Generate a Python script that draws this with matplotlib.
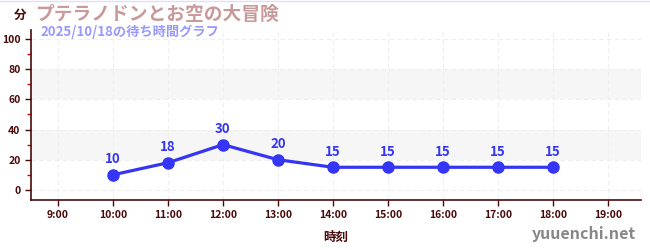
import matplotlib
matplotlib.use('Agg')
import matplotlib.pyplot as plt
from matplotlib.ticker import MultipleLocator

plt.rcParams['font.family'] = ['Noto Sans CJK JP', 'DejaVu Sans']

hours = [10, 11, 12, 13, 14, 15, 16, 17, 18]
waits = [10, 18, 30, 20, 15, 15, 15, 15, 15]
tick_hours = [9, 10, 11, 12, 13, 14, 15, 16, 17, 18, 19]
tick_labels = ['%d:00' % h for h in tick_hours]
y_ticks = [0, 20, 40, 60, 80, 100]

title = 'プテラノドンとお空の大冒険'
subtitle = '2025/10/18の待ち時間グラフ'

axis_col = '#4a0a0a'
line_col = '#3535f5'

fig = plt.figure(figsize=(6.5, 2.5), dpi=100)
ax = fig.add_axes([31 / 650, 50 / 250, 610 / 650, 170 / 250])

ax.set_xlim(8.51, 19.6)
ax.set_ylim(-6.7, 106)

# grey bands
for lo, hi in [(20, 40), (60, 80)]:
    ax.axhspan(lo, hi, color='#f6f6f6', zorder=0, lw=0)

ax.set_xticks(tick_hours)
ax.set_xticklabels(tick_labels)
ax.set_yticks(y_ticks)
ax.yaxis.set_minor_locator(MultipleLocator(10))
ax.grid(True, which='major', color='#eeeeee', linestyle=(0, (4, 3)), lw=0.8)

for s in ['top', 'right']:
    ax.spines[s].set_visible(False)
for s in ['left', 'bottom']:
    ax.spines[s].set_color(axis_col)
    ax.spines[s].set_linewidth(1.2)

ax.tick_params(axis='both', which='major', colors=axis_col, labelsize=7.5, length=4, width=1)
ax.tick_params(axis='y', which='minor', colors='#dd0000', length=3, width=1)
ax.tick_params(axis='x', pad=3)
for lbl in ax.get_xticklabels() + ax.get_yticklabels():
    lbl.set_fontweight('bold')
    lbl.set_color(axis_col)

ax.plot(hours, waits, color=line_col, lw=2.3, marker='o', ms=8, zorder=3)
for h, w in zip(hours, waits):
    ax.annotate(str(w), (h, w), xytext=(0, 6), textcoords='offset points',
                ha='center', va='bottom', color=line_col, fontsize=9.5, fontweight='bold')

ax.set_xlabel('時刻', color=axis_col, fontsize=9, fontweight='bold', labelpad=8)

fig.text(14 / 650, 1 - 15 / 250, '分', color=axis_col, fontsize=9, fontweight='bold', va='center')
fig.text(35 / 650, 1 - 14 / 250, title, color='#c99a9a', fontsize=13.5, fontweight='bold', va='center')
fig.text(40 / 650, 1 - 32 / 250, subtitle, color='#9999ff', fontsize=9.5, fontweight='bold', va='center')
fig.text(636 / 650, 1 - 234 / 250, 'yuuenchi.net', color='#888888', fontsize=11.5, fontweight='bold',
         ha='right', va='center')

fig.add_artist(plt.Line2D([0, 1], [0.998, 0.998], color='#e0e0f5', lw=1))

fig.savefig('out.png', dpi=100)
